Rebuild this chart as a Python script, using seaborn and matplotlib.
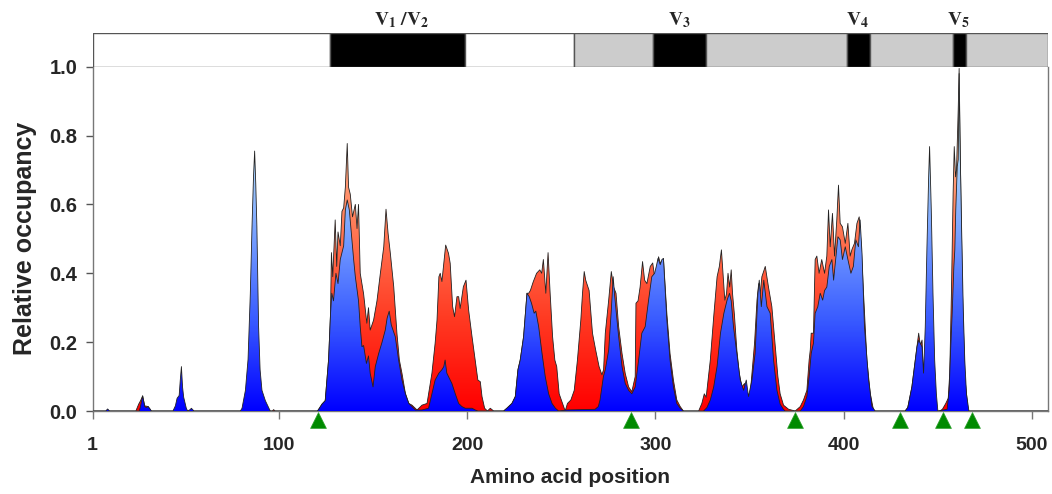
import numpy as np
import matplotlib
matplotlib.use("Agg")
import matplotlib.pyplot as plt
from matplotlib.colors import LinearSegmentedColormap
from matplotlib.transforms import blended_transform_factory
import seaborn as sns
import pandas as pd

# total occupancy (red envelope)
red_pos = [1, 24, 25.5, 26.5, 27.6, 28.7, 30.5, 32.2, 96.5, 97.2, 98,
           120.5, 121.5, 122.9, 124.6, 126.4, 127.4, 127.9, 128.6, 129.9, 130.7, 131.4, 132.6, 133.5, 134.4,
           135.3, 136.3, 137.0, 137.9, 139.1, 140.6, 141.5, 142.3, 143.2, 145.0, 146.7, 147.6, 148.5, 150.3,
           152.1, 153.9, 155.7, 156.9, 158.0, 159.2, 161.0, 162.7, 164.0, 165.4, 167.2, 169.0, 170.7, 173.4,
           176.0, 178.7, 181.3, 183.0, 184.0, 185.0, 185.7, 186.6, 188.6, 190.1, 191.0, 192.3, 193.3, 194.6,
           195.5, 196.3, 198.0, 199.4, 200.8, 202.6, 204.3, 205.7, 207.0, 207.9, 209.3, 210.8, 212.3, 214.1,
           219.4, 221.1, 223.8, 225.6, 227.0, 228.2, 230.0, 231.8, 232.7, 233.6, 235.1, 236.9, 238.6, 239.6,
           240.5, 241.8, 243.0, 244.1, 245.4, 246.6, 247.6, 248.9, 250.7, 252.1,
           253.3, 255.1, 256.9, 258.6, 260.4, 261.3, 262.2, 263.0, 264.8, 266.6, 268.3, 270.1, 271.6, 272.5,
           273.4, 275.2, 276.6, 277.8, 279.1, 280.5, 282.3, 284.0, 285.8, 287.5, 289.3, 289.7, 290.8, 291.9,
           293.2, 294.3, 295.5, 297.3, 298.6, 299.6, 300.8, 301.7, 302.6, 303.5, 304.3, 306.1, 307.8, 309.6,
           311.4, 313.2, 314.9,
           323.0, 324.7, 326.0, 327.0, 328.0, 329.2, 331.0, 332.8, 334.0, 335.1, 335.8, 336.9, 337.8, 338.6,
           339.5, 340.3, 341.0, 342.0, 343.3, 344.6, 346.0, 347.4, 348.3, 349.5, 350.4, 351.3, 352.7, 354.0,
           354.9, 355.7, 356.6, 358.4, 360.1, 361.9, 363.7, 365.1, 366.3, 368.1, 370.8, 374.3, 377.0, 378.7,
           380.5, 381.7, 382.3, 382.8, 384.0, 384.9, 385.8, 387.0, 388.4, 389.9, 391.1, 392.0, 392.9, 394.1,
           395.2, 396.4, 397.3, 398.2, 399.4, 400.9, 402.3, 403.5, 404.5, 405.8, 407.1, 408.3, 409.4, 410.6,
           412.4, 414.2, 416.0,
           432.7, 434.1, 436.3, 438.1, 439.0, 439.9, 440.8, 441.7, 442.4, 443.0,
           449.4, 451.1, 452.5, 454.3, 455.6, 456.4, 457.3, 458.2, 458.8, 459.5, 460.0, 460.9, 461.4, 461.8,
           462.3, 463.2, 464.4, 466.2, 509]
red_occ = [0, 0, 0.02, 0.03, 0.044, 0.015, 0.013, 0, 0, 0.004, 0,
           0, 0.008, 0.02, 0.03, 0.15, 0.28, 0.46, 0.39, 0.555, 0.42, 0.52, 0.48, 0.58, 0.59,
           0.65, 0.777, 0.65, 0.63, 0.564, 0.60, 0.53, 0.60, 0.40, 0.34, 0.255, 0.30, 0.235, 0.264,
           0.32, 0.40, 0.477, 0.586, 0.516, 0.458, 0.361, 0.226, 0.148, 0.109, 0.051, 0.022, 0.017, 0.003,
           0.017, 0.022, 0.11, 0.197, 0.264, 0.39, 0.40, 0.376, 0.482, 0.458, 0.429, 0.303, 0.274, 0.332,
           0.332, 0.298, 0.361, 0.38, 0.293, 0.216, 0.148, 0.09, 0.085, 0.042, 0.008, 0, 0.008, 0,
           0, 0.008, 0.022, 0.042, 0.12, 0.148, 0.216, 0.342, 0.342, 0.35, 0.375, 0.40, 0.41, 0.40,
           0.44, 0.342, 0.46, 0.342, 0.216, 0.148, 0.129, 0.05, 0.022, 0,
           0.022, 0.032, 0.06, 0.148, 0.264, 0.342, 0.405, 0.38, 0.35, 0.226, 0.177, 0.129, 0.105, 0.12,
           0.226, 0.322, 0.405, 0.36, 0.342, 0.245, 0.167, 0.109, 0.07, 0.056, 0.10, 0.313, 0.32, 0.36,
           0.434, 0.38, 0.37, 0.42, 0.43, 0.39, 0.41, 0.448, 0.43, 0.435, 0.443, 0.284, 0.167, 0.09,
           0.032, 0.013, 0,
           0, 0.022, 0.05, 0.04, 0.09, 0.148, 0.274, 0.39, 0.42, 0.468, 0.41, 0.322, 0.34, 0.40,
           0.36, 0.41, 0.342, 0.28, 0.177, 0.109, 0.07, 0.08, 0.055, 0.042, 0.05, 0.109, 0.197, 0.322,
           0.37, 0.34, 0.39, 0.42, 0.36, 0.303, 0.187, 0.10, 0.05, 0.017, 0.005, 0, 0.013, 0.032,
           0.06, 0.148, 0.177, 0.226, 0.226, 0.44, 0.45, 0.40, 0.44, 0.40, 0.45, 0.584, 0.477, 0.574,
           0.45, 0.555, 0.656, 0.545, 0.535, 0.487, 0.545, 0.45, 0.47, 0.487, 0.545, 0.564, 0.477, 0.342,
           0.148, 0.05, 0,
           0, 0.01, 0.07, 0.148, 0.187, 0.226, 0.19, 0.206, 0.11, 0,
           0, 0, 0.005, 0.022, 0.037, 0.109, 0.342, 0.632, 0.768, 0.68, 0.70, 0.874, 0.995, 0.826,
           0.632, 0.342, 0.10, 0, 0]

# occupancy of the blue subset
blue_pos = [1, 8, 9, 10, 25.8, 26.4, 27.6, 28.7, 29.5, 30.5, 31.5, 32.2,
            43.7, 45.0, 45.9, 47.0, 47.6, 48.2, 48.8, 49.4, 50.8, 51.5, 52.8, 53.5, 54.9,
            79.5, 80.4, 82.2, 83.6, 84.8, 85.7, 86.5, 87.1, 87.7, 88.3, 89.2, 90.0, 91.0, 92.8, 94.5, 95.4,
            120.5, 121.5, 122.9, 124.6, 126.4, 127.4, 128.1, 129.0, 130.3, 131.4, 132.6, 134.4, 135.3, 136.3,
            137.4, 138.4, 139.7, 140.6, 142.3, 143.2, 144.1, 145.0, 146.5, 147.6, 148.5, 150.0, 151.2, 153.0,
            154.8, 156.5, 157.5, 158.6, 159.7, 161.8, 163.6, 165.4, 167.2, 169.0, 170.7, 172.5, 176.0, 179.5,
            181.3, 183.0, 185.0, 186.6, 187.6, 188.3, 189.2, 191.9, 193.7, 195.5, 197.2, 199.0, 202.6, 204.3,
            205.7,
            219.4, 221.1, 223.8, 225.6, 227.0, 228.2, 230.0, 231.8, 233.0, 234.2, 235.6, 236.5, 238.0, 239.8,
            241.5, 243.3, 245.1, 246.9, 248.6, 253.0, 268.0, 269.7, 270.6, 272.4, 273.4, 275.2, 276.6, 277.6,
            278.3, 279.1, 280.5, 282.3, 284.0, 285.8, 287.5, 289.3, 291.1, 292.8, 294.6, 296.4, 298.1, 299.6,
            300.5, 301.4, 302.6, 303.5, 304.3, 306.1, 307.8, 309.6, 311.4, 313.2, 314.9,
            325.6, 327.4, 329.2, 331.0, 332.8, 334.6, 336.4, 338.1, 339.4, 340.3, 341.5, 343.3, 345.1, 346.9,
            348.3, 349.5, 351.3, 353.0, 354.5, 355.2, 356.3, 357.6, 359.3, 361.0, 362.8, 364.6, 366.3, 368.0,
            369.0,
            377.0, 378.7, 380.5, 381.7, 382.8, 384.0, 384.9, 386.3, 387.6, 388.9, 389.9, 391.1, 392.4, 393.8,
            394.7, 395.8, 397.0, 398.2, 399.4, 400.9, 402.3, 403.9, 405.2, 406.5, 407.9, 408.8, 409.8, 411.1,
            413.3, 415.1, 416.8,
            432.7, 434.1, 436.3, 438.1, 439.0, 439.9, 441.7, 442.5, 443.4, 444.3, 445.2, 445.7, 446.6, 447.5,
            448.4, 449.3, 450.1,
            455.0, 456.1, 456.8, 457.7, 458.6, 459.1, 459.6, 460.4, 460.9, 461.4, 461.8, 462.7, 463.6, 464.4,
            465.3, 466.6, 509]
blue_occ = [0, 0, 0.006, 0, 0, 0.012, 0.044, 0.013, 0.01, 0.013, 0.006, 0,
            0, 0.015, 0.037, 0.045, 0.09, 0.129, 0.07, 0.04, 0.008, 0, 0.004, 0.008, 0,
            0, 0.008, 0.06, 0.15, 0.34, 0.535, 0.68, 0.755, 0.66, 0.535, 0.245, 0.12, 0.06, 0.03, 0.01, 0,
            0, 0.008, 0.02, 0.03, 0.15, 0.28, 0.342, 0.32, 0.40, 0.37, 0.44, 0.48, 0.584, 0.613,
            0.584, 0.52, 0.44, 0.39, 0.32, 0.245, 0.187, 0.19, 0.138, 0.16, 0.109, 0.07, 0.129, 0.167,
            0.20, 0.235, 0.27, 0.29, 0.25, 0.216, 0.148, 0.09, 0.05, 0.022, 0.013, 0.003, 0.003, 0.008,
            0.05, 0.09, 0.11, 0.12, 0.129, 0.148, 0.11, 0.08, 0.05, 0.022, 0.013, 0.008, 0.008, 0.003,
            0,
            0, 0.008, 0.022, 0.042, 0.12, 0.148, 0.216, 0.342, 0.332, 0.313, 0.284, 0.29, 0.245, 0.167,
            0.10, 0.05, 0.022, 0.008, 0, 0.003, 0.005, 0.013, 0.032, 0.10, 0.12, 0.177, 0.293, 0.39,
            0.34, 0.293, 0.216, 0.129, 0.08, 0.06, 0.05, 0.07, 0.148, 0.226, 0.245, 0.322, 0.39, 0.40,
            0.42, 0.443, 0.425, 0.44, 0.443, 0.265, 0.148, 0.07, 0.022, 0.008, 0,
            0, 0.01, 0.032, 0.07, 0.13, 0.226, 0.284, 0.322, 0.342, 0.32, 0.245, 0.167, 0.09, 0.06,
            0.09, 0.042, 0.09, 0.167, 0.342, 0.38, 0.303, 0.38, 0.303, 0.284, 0.148, 0.06, 0.02, 0.005,
            0,
            0, 0.013, 0.042, 0.10, 0.167, 0.197, 0.284, 0.303, 0.342, 0.322, 0.35, 0.36, 0.42, 0.44,
            0.38, 0.44, 0.506, 0.497, 0.44, 0.477, 0.44, 0.40, 0.42, 0.497, 0.477, 0.555, 0.458, 0.245,
            0.09, 0.013, 0,
            0, 0.01, 0.07, 0.148, 0.187, 0.206, 0.186, 0.11, 0.245, 0.477, 0.68, 0.768, 0.584, 0.342,
            0.148, 0.05, 0,
            0.005, 0.06, 0.167, 0.284, 0.42, 0.468, 0.584, 0.71, 0.73, 0.98, 0.80, 0.535, 0.293, 0.148,
            0.05, 0, 0]

# glycosylation sites (green triangles)
sites = [121, 287, 374, 430, 453, 468]

# domain bar on top
seg_start = [1, 127, 199, 257, 299, 327, 402, 414, 458, 465]
seg_end = [127, 199, 257, 299, 327, 402, 414, 458, 465, 508.5]
seg_color = ["white", "black", "white", "#cccccc", "black", "#cccccc", "black", "#cccccc", "black", "#cccccc"]
region_labels = [r"$\mathbf{V_1\ /V_2}$", r"$\mathbf{V_3}$", r"$\mathbf{V_4}$", r"$\mathbf{V_5}$"]
region_label_pos = [165, 313, 407.5, 461]

x_ticks = [1, 100, 200, 300, 400, 500]
y_ticks = [0.0, 0.2, 0.4, 0.6, 0.8, 1.0]

sns.set_style("ticks")
plt.rcParams['font.family'] = ['Liberation Sans', 'DejaVu Sans']
plt.rcParams['mathtext.fontset'] = 'stix'

fig = plt.figure(figsize=(10.52, 4.94), dpi=100)
ax = fig.add_axes([0.088, 0.168, 0.908, 0.697])
bar_ax = fig.add_axes([0.088, 0.865, 0.908, 0.068])

xmin, xmax = 1, 508.5

red_cmap = LinearSegmentedColormap.from_list("occ_red", ["#ff0000", "#ff3a22", "#ff7a56", "#ffb890"])
blue_cmap = LinearSegmentedColormap.from_list("occ_blue", ["#0000ff", "#3a5cff", "#7ca6ff", "#bce6f8"])


def gradient_area(ax, pos, occ, cmap, z):
    poly = ax.fill_between(pos, occ, 0, facecolor="none", edgecolor="none", zorder=z)
    grad = np.linspace(0, 1, 256).reshape(-1, 1)
    im = ax.imshow(grad, extent=[xmin, xmax, 0, 1], origin="lower", aspect="auto",
                   cmap=cmap, vmin=0, vmax=0.8, zorder=z, interpolation="bilinear")
    im.set_clip_path(poly.get_paths()[0], transform=ax.transData)
    df = pd.DataFrame({"pos": pos, "occ": occ})
    sns.lineplot(data=df, x="pos", y="occ", ax=ax, color="#222222", lw=0.6,
                 estimator=None, sort=False, zorder=z + 0.1)


gradient_area(ax, red_pos, red_occ, red_cmap, 2)
gradient_area(ax, blue_pos, blue_occ, blue_cmap, 3)

sns.scatterplot(x=sites, y=[-0.027] * len(sites), ax=ax, marker="^", s=130,
                color="#008a00", edgecolor="#2aa02a", linewidth=0.5, zorder=5)
ax.collections[-1].set_clip_on(False)

ax.set_xlim(xmin, xmax)
ax.set_ylim(0, 1.0)
ax.set_xticks(x_ticks)
ax.set_yticks(y_ticks)
ax.set_yticklabels([f"{v:.1f}" for v in y_ticks])
ax.tick_params(axis="x", length=6, width=1, pad=13, labelsize=14, color="#777777")
ax.tick_params(axis="y", length=5, width=1, pad=6, labelsize=14.5, color="#555555")
for lab in ax.get_xticklabels() + ax.get_yticklabels():
    lab.set_fontweight("bold")
for side in ["left", "bottom", "right"]:
    ax.spines[side].set_color("#777777")
    ax.spines[side].set_linewidth(1)
ax.spines["top"].set_visible(False)
ax.spines["right"].set_visible(True)
ax.set_xlabel("Amino acid position", fontsize=15, fontweight="bold", labelpad=10)
ax.set_ylabel("Relative occupancy", fontsize=18, fontweight="bold", labelpad=9)

bar_ax.barh(y=0, width=np.array(seg_end) - np.array(seg_start), left=seg_start, height=1,
            color=seg_color, edgecolor="#555555", linewidth=1)
bar_ax.set_xlim(xmin, xmax)
bar_ax.set_ylim(-0.5, 0.5)
bar_ax.axis("off")
tr = blended_transform_factory(bar_ax.transData, bar_ax.transAxes)
for p, lab in zip(region_label_pos, region_labels):
    bar_ax.text(p, 1.1, lab, transform=tr, ha="center", va="bottom", fontsize=14)

fig.savefig("out.png", dpi=100)
